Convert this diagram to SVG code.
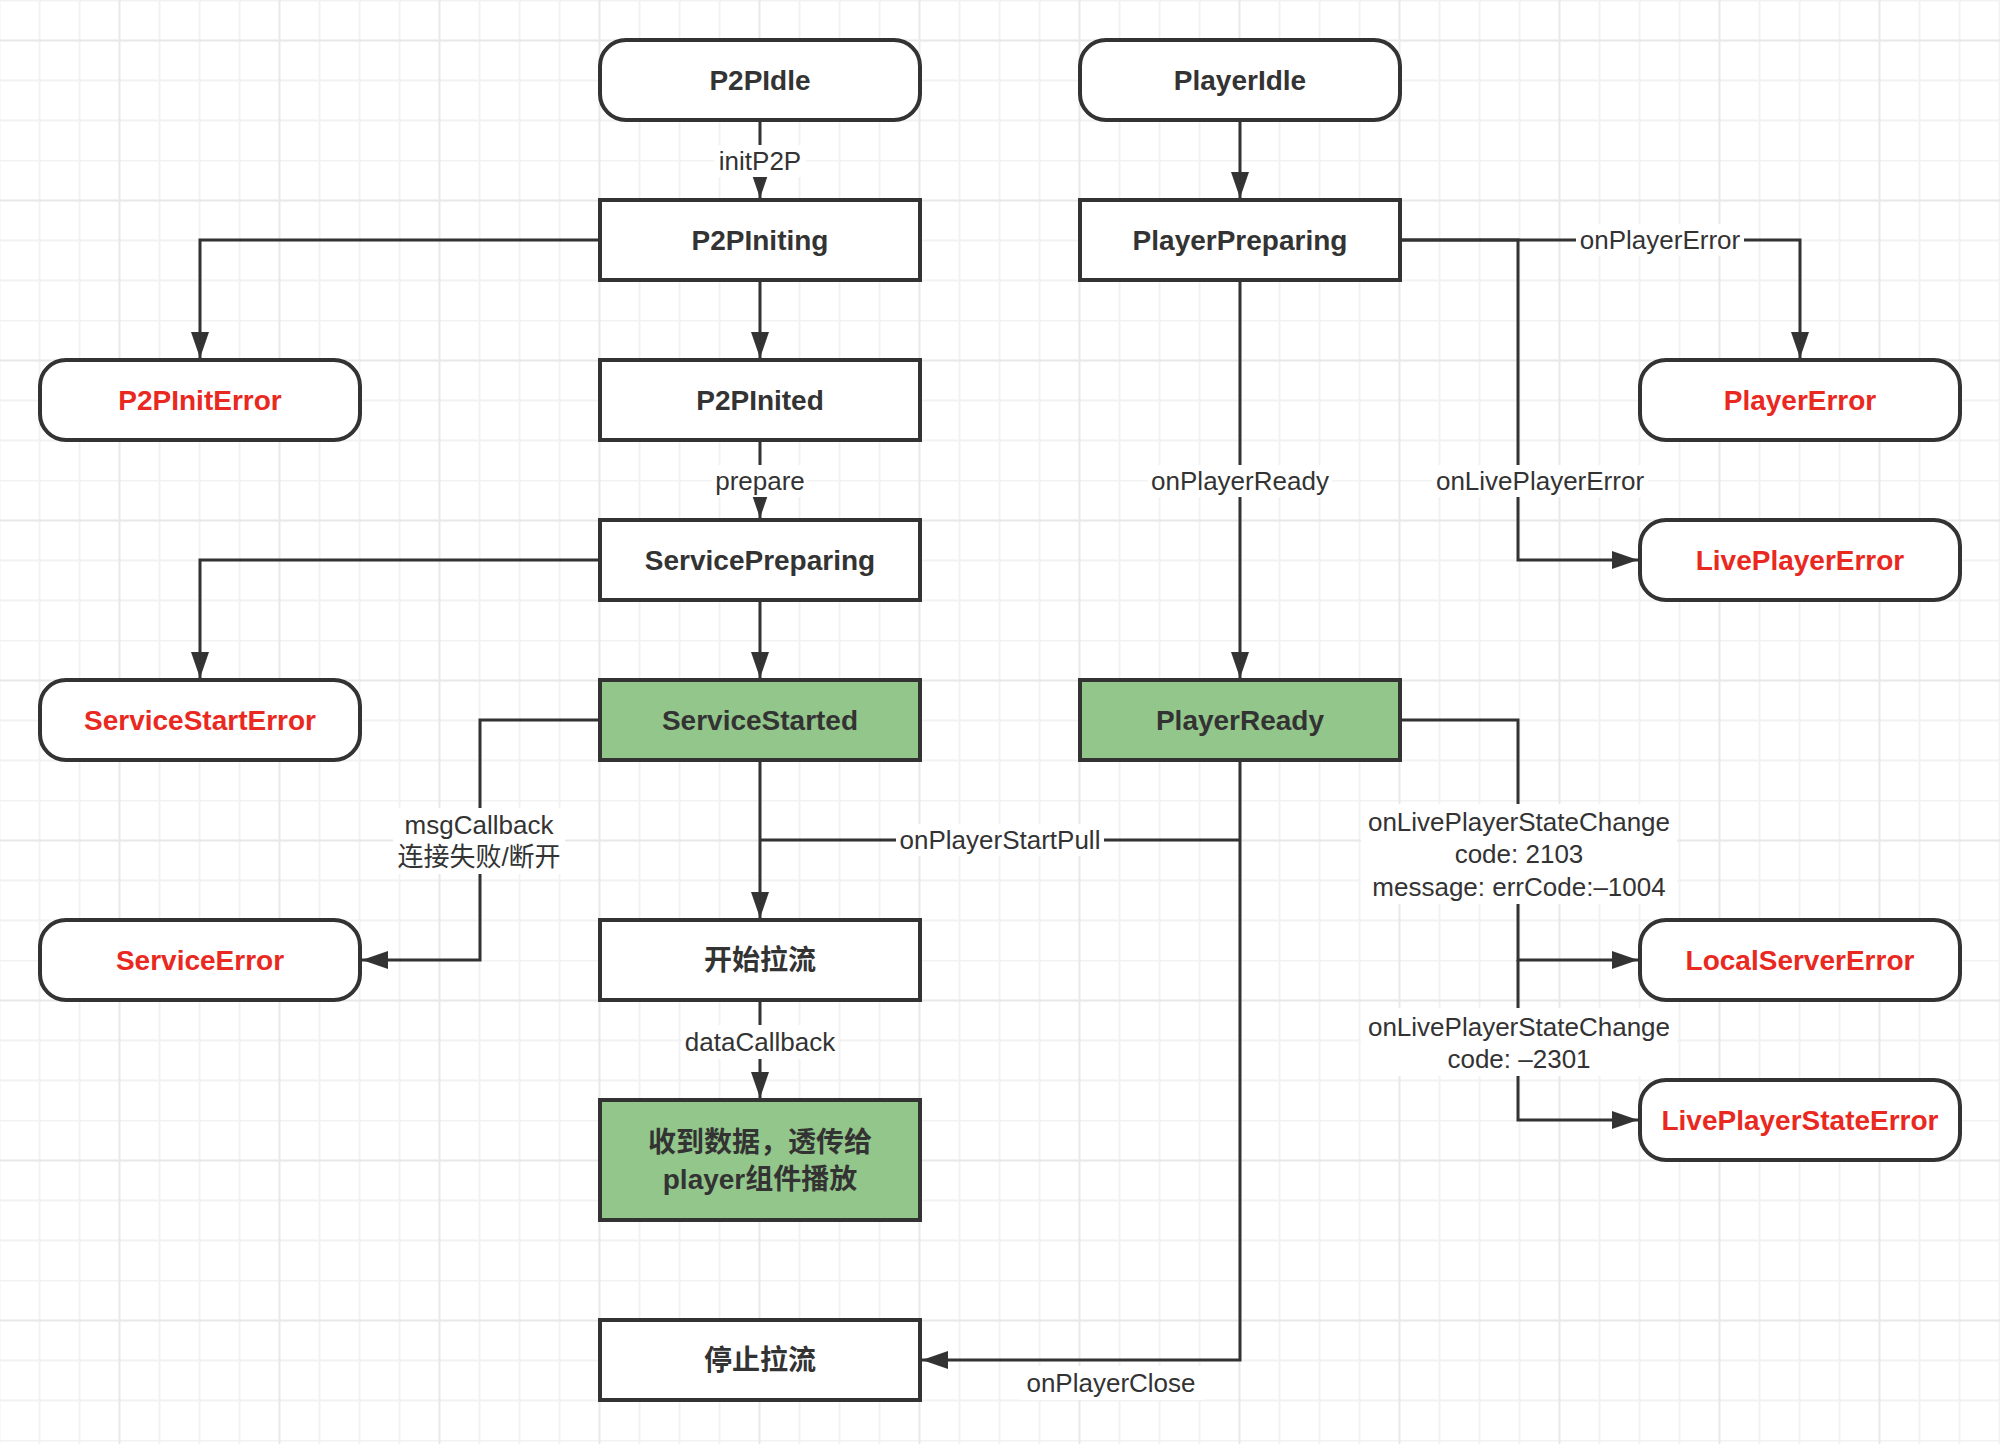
<svg xmlns="http://www.w3.org/2000/svg" width="2000" height="1444" viewBox="0 0 2000 1444">
  <defs>
    <!-- background grid: minor cell 40px, a stronger line every 4 cells -->
    <pattern id="grid" x="0" y="0" width="160" height="160" patternUnits="userSpaceOnUse">
      <g stroke="#f2f2f2" stroke-width="2">
        <line x1="0" y1="0.5" x2="160" y2="0.5"/>
        <line x1="0" y1="80.5" x2="160" y2="80.5"/>
        <line x1="0" y1="120.5" x2="160" y2="120.5"/>
        <line x1="-0.5" y1="0" x2="-0.5" y2="160"/>
        <line x1="39.5" y1="0" x2="39.5" y2="160"/>
        <line x1="79.5" y1="0" x2="79.5" y2="160"/>
        <line x1="159.5" y1="0" x2="159.5" y2="160"/>
      </g>
      <g stroke="#e8e8e8" stroke-width="2">
        <line x1="0" y1="40.5" x2="160" y2="40.5"/>
        <line x1="119.5" y1="0" x2="119.5" y2="160"/>
      </g>
    </pattern>
    <marker id="arrow" markerUnits="userSpaceOnUse" markerWidth="27" markerHeight="20" refX="26" refY="10" orient="auto">
      <path d="M0,1 L26,10 L0,19 Z" fill="#333"/>
    </marker>
  </defs>
  <style>
    .box { fill: #ffffff; stroke: #333333; stroke-width: 4; }
    .green { fill: #93c68b; }
    .nt { font-family: "Liberation Sans", "Noto Sans CJK SC", sans-serif; font-size: 28px; font-weight: bold; fill: #333333; text-anchor: middle; dominant-baseline: central; }
    .err { fill: #e9291f; }
    .edge { fill: none; stroke: #333333; stroke-width: 3; }
    .arr { marker-end: url(#arrow); }
    .lbg { fill: #ffffff; }
    .lt { font-family: "Liberation Sans", "Noto Sans CJK SC", sans-serif; font-size: 26px; fill: #333333; text-anchor: middle; dominant-baseline: central; }
  </style>

  <rect x="0" y="0" width="2000" height="1444" fill="#ffffff"/>
  <rect x="0" y="0" width="2000" height="1444" fill="url(#grid)"/>

  <!-- connectors -->
  <g id="connectors">
    <path class="edge arr" d="M760,120 V198"/>
    <path class="edge arr" d="M600,240 H200 V358"/>
    <path class="edge arr" d="M760,280 V358"/>
    <path class="edge arr" d="M760,440 V518"/>
    <path class="edge arr" d="M600,560 H200 V678"/>
    <path class="edge arr" d="M760,600 V678"/>
    <path class="edge arr" d="M600,720 H480 V960 H362"/>
    <path class="edge arr" d="M760,760 V918"/>
    <path class="edge" d="M1240,840 H760"/>
    <path class="edge arr" d="M1240,760 V1360 H922"/>
    <path class="edge arr" d="M760,1000 V1098"/>
    <path class="edge arr" d="M1240,120 V198"/>
    <path class="edge arr" d="M1400,240 H1800 V358"/>
    <path class="edge arr" d="M1400,240 H1518 V560 H1638"/>
    <path class="edge arr" d="M1240,280 V678"/>
    <path class="edge arr" d="M1400,720 H1518 V960 H1638"/>
    <path class="edge arr" d="M1518,960 V1120 H1638"/>

    <!-- connector labels -->
    <g id="label-initP2P">
      <rect class="lbg" x="714" y="145" width="92" height="32"/>
      <text class="lt" x="760" y="161">initP2P</text>
    </g>
    <g id="label-prepare">
      <rect class="lbg" x="712" y="465" width="96" height="32"/>
      <text class="lt" x="760" y="481">prepare</text>
    </g>
    <g id="label-msgCallback">
      <rect class="lbg" x="393" y="808" width="172" height="66"/>
      <text class="lt" x="479" y="825">msgCallback</text>
      <text class="lt" x="479" y="857">连接失败/断开</text>
    </g>
    <g id="label-onPlayerStartPull">
      <rect class="lbg" x="896" y="824" width="208" height="32"/>
      <text class="lt" x="1000" y="840">onPlayerStartPull</text>
    </g>
    <g id="label-dataCallback">
      <rect class="lbg" x="682" y="1025" width="156" height="34"/>
      <text class="lt" x="760" y="1042">dataCallback</text>
    </g>
    <g id="label-onPlayerClose">
      <rect class="lbg" x="1022" y="1366" width="180" height="34"/>
      <text class="lt" x="1111" y="1383">onPlayerClose</text>
    </g>
    <g id="label-onPlayerError">
      <rect class="lbg" x="1576" y="224" width="168" height="32"/>
      <text class="lt" x="1660" y="240">onPlayerError</text>
    </g>
    <g id="label-onPlayerReady">
      <rect class="lbg" x="1148" y="465" width="184" height="32"/>
      <text class="lt" x="1240" y="481">onPlayerReady</text>
    </g>
    <g id="label-onLivePlayerError">
      <rect class="lbg" x="1432" y="465" width="216" height="32"/>
      <text class="lt" x="1540" y="481">onLivePlayerError</text>
    </g>
    <g id="label-stateChange-2103">
      <rect class="lbg" x="1361" y="804" width="316" height="100"/>
      <text class="lt" x="1519" y="822">onLivePlayerStateChange</text>
      <text class="lt" x="1519" y="854">code: 2103</text>
      <text class="lt" x="1519" y="887">message: errCode:–1004</text>
    </g>
    <g id="label-stateChange-2301">
      <rect class="lbg" x="1361" y="1008" width="316" height="68"/>
      <text class="lt" x="1519" y="1027">onLivePlayerStateChange</text>
      <text class="lt" x="1519" y="1059">code: –2301</text>
    </g>
  </g>

  <!-- P2P column -->
  <g id="P2PIdle">
    <rect class="box" x="600" y="40" width="320" height="80" rx="26" ry="26"/>
    <text class="nt" x="760" y="80">P2PIdle</text>
  </g>
  <g id="P2PIniting">
    <rect class="box" x="600" y="200" width="320" height="80"/>
    <text class="nt" x="760" y="240">P2PIniting</text>
  </g>
  <g id="P2PInited">
    <rect class="box" x="600" y="360" width="320" height="80"/>
    <text class="nt" x="760" y="400">P2PInited</text>
  </g>
  <g id="ServicePreparing">
    <rect class="box" x="600" y="520" width="320" height="80"/>
    <text class="nt" x="760" y="560">ServicePreparing</text>
  </g>
  <g id="ServiceStarted">
    <rect class="box green" x="600" y="680" width="320" height="80"/>
    <text class="nt" x="760" y="720">ServiceStarted</text>
  </g>
  <g id="StartPull">
    <rect class="box" x="600" y="920" width="320" height="80"/>
    <text class="nt" x="760" y="960">开始拉流</text>
  </g>
  <g id="DataReceived">
    <rect class="box green" x="600" y="1100" width="320" height="120"/>
    <text class="nt" x="760" y="1142">收到数据，透传给</text>
    <text class="nt" x="760" y="1179">player组件播放</text>
  </g>
  <g id="StopPull">
    <rect class="box" x="600" y="1320" width="320" height="80"/>
    <text class="nt" x="760" y="1360">停止拉流</text>
  </g>

  <!-- player column -->
  <g id="PlayerIdle">
    <rect class="box" x="1080" y="40" width="320" height="80" rx="26" ry="26"/>
    <text class="nt" x="1240" y="80">PlayerIdle</text>
  </g>
  <g id="PlayerPreparing">
    <rect class="box" x="1080" y="200" width="320" height="80"/>
    <text class="nt" x="1240" y="240">PlayerPreparing</text>
  </g>
  <g id="PlayerReady">
    <rect class="box green" x="1080" y="680" width="320" height="80"/>
    <text class="nt" x="1240" y="720">PlayerReady</text>
  </g>

  <!-- error states -->
  <g id="P2PInitError">
    <rect class="box" x="40" y="360" width="320" height="80" rx="26" ry="26"/>
    <text class="nt err" x="200" y="400">P2PInitError</text>
  </g>
  <g id="ServiceStartError">
    <rect class="box" x="40" y="680" width="320" height="80" rx="26" ry="26"/>
    <text class="nt err" x="200" y="720">ServiceStartError</text>
  </g>
  <g id="ServiceError">
    <rect class="box" x="40" y="920" width="320" height="80" rx="26" ry="26"/>
    <text class="nt err" x="200" y="960">ServiceError</text>
  </g>
  <g id="PlayerError">
    <rect class="box" x="1640" y="360" width="320" height="80" rx="26" ry="26"/>
    <text class="nt err" x="1800" y="400">PlayerError</text>
  </g>
  <g id="LivePlayerError">
    <rect class="box" x="1640" y="520" width="320" height="80" rx="26" ry="26"/>
    <text class="nt err" x="1800" y="560">LivePlayerError</text>
  </g>
  <g id="LocalServerError">
    <rect class="box" x="1640" y="920" width="320" height="80" rx="26" ry="26"/>
    <text class="nt err" x="1800" y="960">LocalServerError</text>
  </g>
  <g id="LivePlayerStateError">
    <rect class="box" x="1640" y="1080" width="320" height="80" rx="26" ry="26"/>
    <text class="nt err" x="1800" y="1120">LivePlayerStateError</text>
  </g>
</svg>
